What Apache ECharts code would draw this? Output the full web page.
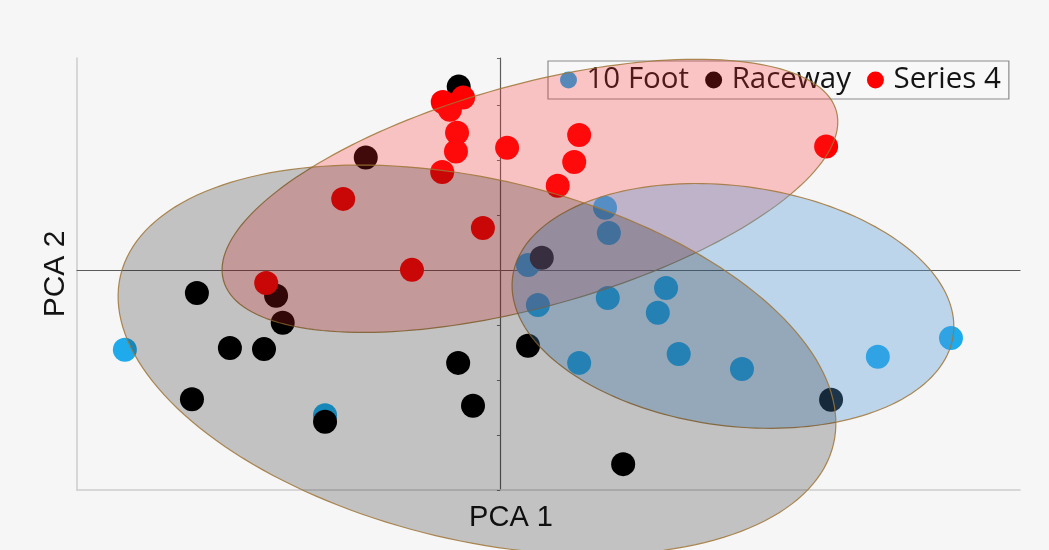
<!DOCTYPE html>
<html>
<head>
<meta charset="utf-8">
<script src="https://cdn.jsdelivr.net/npm/echarts@6/dist/echarts.min.js"></script>
<style>
  html, body { margin: 0; padding: 0; background: #f6f6f6; }
  #chart { width: 1049px; height: 550px; }
</style>
</head>
<body>
<div id="chart"></div>
<script>
// PCA scores per site
const tenFoot = [[1.91,1.13],[1.98,0.67],[0.51,0.09],[0.69,-0.64],[1.96,-0.51],[3.02,-0.33],[2.87,-0.78],[1.44,-1.69],[3.25,-1.53],[4.40,-1.80],[6.87,-1.58],[8.20,-1.24],[-6.82,-1.45],[-3.18,-2.64]];
const raceway = [[-0.75,3.33],[-2.44,2.04],[0.76,0.22],[-5.51,-0.42],[-4.07,-0.47],[-3.95,-0.96],[-4.91,-1.42],[-4.29,-1.44],[-0.76,-1.69],[-0.49,-2.47],[-5.60,-2.35],[-3.18,-2.76],[0.51,-1.38],[6.02,-2.36],[2.24,-3.53]];
const series4 = [[-1.04,3.05],[-0.67,3.13],[-0.91,2.91],[-0.78,2.49],[-0.80,2.15],[-1.05,1.78],[0.13,2.22],[1.44,2.45],[1.35,1.96],[1.05,1.53],[5.93,2.24],[-2.85,1.29],[-0.31,0.76],[-1.60,0.00],[-4.25,-0.24]];

// Group ellipses: centre, semi-axes, rotation (degrees)
const ellipseGroups = ['Series 4', '10 Foot', 'Raceway'];
const ellipseCenters = [[0.545,1.345],[4.236,-0.655],[-0.418,-1.636]];
const ellipseRadii = [[5.78,2.02],[4.04,2.18],[6.66,3.28]];
const ellipseAngles = [15.44, -7.45, -13.3];

const seriesNames = ['10 Foot', 'Raceway', 'Series 4'];
const xRange = [-7.69, 9.455];
const yRange = [-4, 3.85];

const pointColors = { '10 Foot': '#1eaaeb', 'Raceway': '#000000', 'Series 4': '#ff0000' };
const ellipseFill = {
  'Series 4': 'rgba(255,40,40,0.25)',
  '10 Foot': 'rgba(82,151,214,0.35)',
  'Raceway': 'rgba(0,0,0,0.21)'
};

const chart = echarts.init(document.getElementById('chart'), null, { renderer: 'canvas' });

const ellipseData = ellipseGroups.map((g, i) => [
  ellipseCenters[i][0], ellipseCenters[i][1],
  ellipseRadii[i][0], ellipseRadii[i][1], ellipseAngles[i], i
]);

// Outline of each rotated ellipse, mapped through the axes
function renderEllipse(params, api) {
  const cx = api.value(0), cy = api.value(1);
  const a = api.value(2), b = api.value(3);
  const ang = api.value(4) * Math.PI / 180;
  const group = ellipseGroups[api.value(5)];
  const pts = [];
  const n = 180;
  for (let k = 0; k < n; k++) {
    const t = 2 * Math.PI * k / n;
    const ex = a * Math.cos(t), ey = b * Math.sin(t);
    pts.push(api.coord([
      cx + ex * Math.cos(ang) - ey * Math.sin(ang),
      cy + ex * Math.sin(ang) + ey * Math.cos(ang)
    ]));
  }
  return {
    type: 'polygon',
    shape: { points: pts },
    style: {
      fill: ellipseFill[group],
      stroke: 'rgba(160,118,55,0.85)',
      lineWidth: 1.2
    }
  };
}

const hidden = { show: false };

const option = {
  backgroundColor: '#f6f6f6',
  animation: false,
  grid: { left: 77, right: 29, top: 58, bottom: 60 },
  legend: {
    data: seriesNames,
    left: 548, top: 61,
    icon: 'circle',
    itemWidth: 26, itemHeight: 17, itemGap: 16,
    padding: [4, 8, 4, 12],
    borderColor: '#8c8c8c', borderWidth: 1.2,
    backgroundColor: '#f8f8f8',
    textStyle: { fontFamily: 'Open Sans', fontSize: 29.5, color: '#141414' },
    z: 2
  },
  xAxis: [
    {
      type: 'value', min: xRange[0], max: xRange[1], position: 'bottom',
      axisLine: { show: true, onZero: true, lineStyle: { color: '#5c5c5c', width: 1.2 } },
      axisTick: hidden, axisLabel: hidden, splitLine: hidden
    },
    {
      type: 'value', min: xRange[0], max: xRange[1], position: 'bottom',
      axisLine: { show: true, onZero: false, lineStyle: { color: '#cdcdcd', width: 1.5 } },
      axisTick: hidden, axisLabel: hidden, splitLine: hidden,
      name: 'PCA 1', nameLocation: 'middle', nameGap: 13,
      nameTextStyle: { fontFamily: 'Liberation Sans', fontSize: 29, color: '#141414', padding: [0, 75, 0, 0] }
    }
  ],
  yAxis: [
    {
      type: 'value', min: yRange[0], max: yRange[1], interval: 1, position: 'left',
      axisLine: { show: true, onZero: true, lineStyle: { color: '#5c5c5c', width: 1.2 } },
      axisTick: { show: true, length: 3, lineStyle: { color: '#6a6a6a', width: 1 } },
      axisLabel: hidden, splitLine: hidden
    },
    {
      type: 'value', min: yRange[0], max: yRange[1], position: 'left',
      axisLine: { show: true, onZero: false, lineStyle: { color: '#cdcdcd', width: 1.5 } },
      axisTick: hidden, axisLabel: hidden, splitLine: hidden,
      name: 'PCA 2', nameLocation: 'middle', nameGap: 6,
      nameTextStyle: { fontFamily: 'Liberation Sans', fontSize: 30, color: '#141414' }
    }
  ],
  series: [
    { name: '10 Foot', type: 'scatter', data: tenFoot, symbolSize: 24, itemStyle: { color: pointColors['10 Foot'], opacity: 1 }, z: 3 },
    { name: 'Raceway', type: 'scatter', data: raceway, symbolSize: 24, itemStyle: { color: pointColors['Raceway'], opacity: 1 }, z: 3 },
    { name: 'Series 4', type: 'scatter', data: series4, symbolSize: 24, itemStyle: { color: pointColors['Series 4'], opacity: 1 }, z: 3 },
    {
      name: 'group ellipses', type: 'custom', data: ellipseData,
      encode: { x: 0, y: 1 }, renderItem: renderEllipse,
      silent: true, clip: false, z: 10
    }
  ]
};

chart.setOption(option);
</script>
</body>
</html>
